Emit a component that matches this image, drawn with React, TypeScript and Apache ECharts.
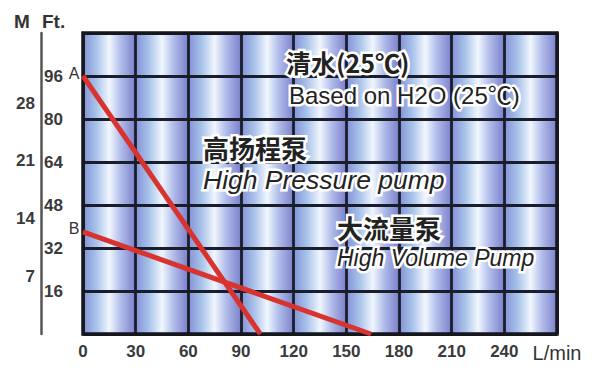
import React, { useEffect, useRef } from "react";
import * as echarts from "echarts";

// ---- data ----
const flowTicks = [0, 30, 60, 90, 120, 150, 180, 210, 240, 270];
const columnStarts = [0, 30, 60, 90, 120, 150, 180, 210, 240];
const meterLabels = [7, 14, 21, 28];
const highPressureFlow = [0, 101];
const highPressureHead = [96, 0];
const highVolumeFlow = [0, 164];
const highVolumeHead = [38, 0];
const pointNames = ["A", "B"];

const FONT = "'Liberation Sans', Arial, 'Noto Sans CJK SC', sans-serif";
const CJK = "'Noto Sans CJK SC', 'Liberation Sans', sans-serif";

function haloText(text: string, x: number, y: number, opts: any) {
  const base = {
    text,
    x: 0,
    y: 0,
    align: "left",
    verticalAlign: "middle",
    fontSize: opts.fontSize,
    fontFamily: opts.fontFamily || FONT,
    fontWeight: opts.fontWeight || "normal",
    fontStyle: opts.fontStyle || "normal",
  };
  return {
    type: "group",
    x,
    y,
    z: 20,
    children: [
      { type: "text", z: 20, style: { ...base, fill: "#ffffff", stroke: "#ffffff", lineWidth: 5 } },
      { type: "text", z: 21, style: { ...base, fill: "#222222" } },
    ],
  };
}

export default function App() {
  const ref = useRef<HTMLDivElement>(null);
  useEffect(() => {
    if (!ref.current) return;
    const chart = echarts.init(ref.current, undefined, { renderer: "svg" });
    const cellGradient = () =>
      new echarts.graphic.LinearGradient(0, 0, 1, 0, [
        { offset: 0, color: "#8392d6" },
        { offset: 0.25, color: "#a8c2ea" },
        { offset: 0.5, color: "#f0f6fd" },
        { offset: 0.72, color: "#b0bcea" },
        { offset: 1, color: "#7b80ca" },
      ]);
    const areas = columnStarts.map((s, i) => [
      { xAxis: s, yAxis: 0, itemStyle: { color: cellGradient() } },
      { xAxis: flowTicks[i + 1], yAxis: 112 },
    ]);
    const lineColor = "#d8332e";
    const mkSeries = (name: string, xs: number[], ys: number[], tag: string) => ({
      name,
      type: "line",
      z: 5,
      data: xs.map((x, i) => [x, ys[i]]),
      symbol: "circle",
      symbolSize: 1,
      showSymbol: true,
      itemStyle: { color: lineColor },
      lineStyle: { color: lineColor, width: 5 },
      label: {
        show: true,
        position: "left",
        distance: 3,
        offset: [0, -3],
        color: "#333",
        fontSize: 16,
        fontFamily: FONT,
        formatter: (p: any) => (p.dataIndex === 0 ? tag : ""),
      },
    });
    const option: any = {
      animation: false,
      backgroundColor: "#ffffff",
      grid: { left: 83, top: 33, right: 43, bottom: 39, containLabel: false },
      xAxis: {
        type: "value",
        min: 0,
        max: 270,
        interval: 30,
        z: 3,
        axisLine: { show: false },
        axisTick: { show: false },
        splitLine: { show: true, lineStyle: { color: "#1a1d2a", width: 2.8 } },
        axisLabel: {
          margin: 9,
          color: "#3a3a3a",
          fontSize: 17,
          fontWeight: "bold",
          fontFamily: FONT,
          formatter: (v: number) => (v === 270 ? "{u|L/min}" : String(v)),
          rich: { u: { fontSize: 20, fontWeight: "normal", color: "#333", fontFamily: FONT } },
        },
      },
      yAxis: [
        {
          type: "value",
          min: 0,
          max: 112,
          interval: 16,
          z: 3,
          position: "left",
          axisLine: { show: false },
          axisTick: { show: false },
          splitLine: { show: true, lineStyle: { color: "#1a1d2a", width: 2.8 } },
          axisLabel: {
            margin: 20,
            color: "#3a3a3a",
            fontSize: 17,
            fontWeight: "bold",
            fontFamily: FONT,
            formatter: (v: number) => (v === 0 || v === 112 ? "" : String(v)),
          },
        },
        {
          type: "value",
          min: 0,
          max: 36.5,
          interval: 7,
          position: "left",
          offset: 42,
          z: 3,
          axisLine: { show: true, onZero: false, lineStyle: { color: "#555", width: 2.5 } },
          axisTick: { show: false },
          splitLine: { show: false },
          axisLabel: {
            margin: 6,
            color: "#3a3a3a",
            fontSize: 17,
            fontWeight: "bold",
            fontFamily: FONT,
            formatter: (v: number) => (meterLabels.indexOf(v) >= 0 ? String(v) : ""),
          },
        },
      ],
      series: [
        {
          type: "line",
          z: 1,
          data: [[0, 0]],
          symbol: "none",
          lineStyle: { opacity: 0 },
          silent: true,
          markArea: { silent: true, data: areas },
        },
        mkSeries("High Pressure pump", highPressureFlow, highPressureHead, pointNames[0]),
        mkSeries("High Volume Pump", highVolumeFlow, highVolumeHead, pointNames[1]),
      ],
      graphic: [
        {
          type: "rect",
          z: 4,
          shape: { x: 83, y: 33, width: 474, height: 301 },
          style: { fill: null, stroke: "#15161e", lineWidth: 3.5 },
        },
        {
          type: "text",
          x: 14,
          y: 21,
          z: 20,
          style: { text: "M", fontSize: 19, fontWeight: "bold", fontFamily: FONT, fill: "#333", verticalAlign: "middle" },
        },
        {
          type: "text",
          x: 42,
          y: 21,
          z: 20,
          style: { text: "Ft.", fontSize: 19, fontWeight: "bold", fontFamily: FONT, fill: "#333", verticalAlign: "middle" },
        },
        haloText("清水(25℃)", 286, 62, { fontSize: 25, fontFamily: CJK, fontWeight: "bold" }),
        haloText("Based on H2O (25℃)", 289, 95, { fontSize: 24 }),
        haloText("高扬程泵", 203, 147, { fontSize: 26, fontFamily: CJK, fontWeight: "bold" }),
        haloText("High Pressure pump", 203, 180, { fontSize: 26.5, fontStyle: "italic" }),
        haloText("大流量泵", 337, 227, { fontSize: 26, fontFamily: CJK, fontWeight: "bold" }),
        haloText("High Volume Pump", 337, 258, { fontSize: 23, fontStyle: "italic" }),
      ],
    };
    chart.setOption(option);
    return () => chart.dispose();
  }, []);
  return (
    <div
      ref={ref}
      style={{ position: "fixed", left: 0, top: 0, width: 600, height: 373, background: "#fff" }}
    />
  );
}
